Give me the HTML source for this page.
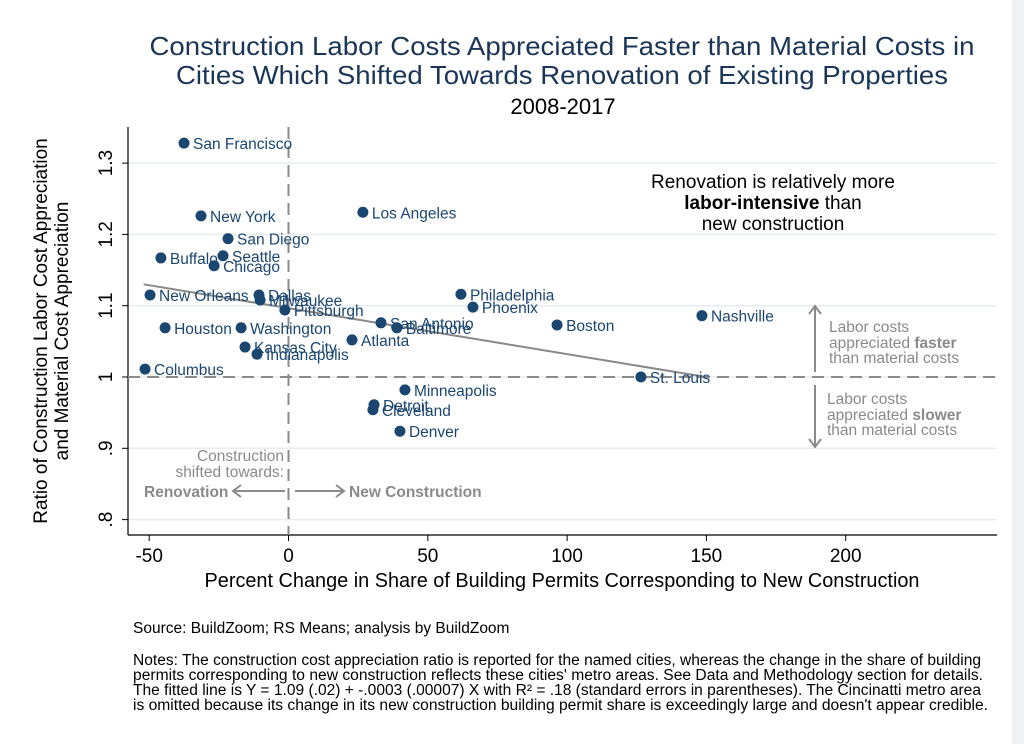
<!DOCTYPE html>
<html><head><meta charset="utf-8"><style>
body{margin:0;background:#fff;}
svg{display:block;font-family:"Liberation Sans",Arial,sans-serif;}
</style></head><body>
<svg id="chart" width="1024" height="744" viewBox="0 0 1024 744">
<rect x="0" y="0" width="1024" height="744" fill="#eef2f4"/>
<rect x="0" y="0" width="1012" height="744" fill="#fff"/>
<text x="562" y="55" text-anchor="middle" font-size="26" fill="#1a3556" textLength="825" lengthAdjust="spacingAndGlyphs">Construction Labor Costs Appreciated Faster than Material Costs in</text>
<text x="562" y="84" text-anchor="middle" font-size="26" fill="#1a3556" textLength="772" lengthAdjust="spacingAndGlyphs">Cities Which Shifted Towards Renovation of Existing Properties</text>
<text x="563" y="114" text-anchor="middle" font-size="22" fill="#000">2008-2017</text>
<g id="grid"></g>
<g id="axes"></g>
<g id="refs"></g>
<g id="fit"></g>
<g id="points"></g>
<text transform="translate(47,331) rotate(-90)" text-anchor="middle" font-size="19" fill="#000"><tspan x="0" dy="0">Ratio of Construction Labor Cost Appreciation</tspan><tspan x="0" dy="21">and Material Cost Appreciation</tspan></text>
<text x="562" y="587" text-anchor="middle" font-size="20" fill="#000" textLength="715" lengthAdjust="spacingAndGlyphs">Percent Change in Share of Building Permits Corresponding to New Construction</text>
<g font-size="19" fill="#000" text-anchor="middle">
<text x="773" y="188">Renovation is relatively more</text>
<text x="773" y="209"><tspan font-weight="bold">labor-intensive</tspan> than</text>
<text x="773" y="230">new construction</text>
</g>
<g font-size="15.5" fill="#8a8a8a">
<text x="829" y="332">Labor costs</text>
<text x="829" y="348">appreciated <tspan font-weight="bold">faster</tspan></text>
<text x="829" y="363">than material costs</text>
</g>
<g font-size="15.5" fill="#8a8a8a">
<text x="827" y="404">Labor costs</text>
<text x="827" y="420">appreciated <tspan font-weight="bold">slower</tspan></text>
<text x="827" y="435">than material costs</text>
</g>
<g stroke="#8a8a8a" stroke-width="2" fill="none">
<path d="M815 372 V306 M809 314 L815 306 L821 314"/>
<path d="M815 385 V447 M809 439 L815 447 L821 439"/>
<path d="M285 491 H233 M241 485 L233 491 L241 497"/>
<path d="M295 491 H344 M336 485 L344 491 L336 497"/>
</g>
<g font-size="15.5" fill="#8a8a8a" text-anchor="end">
<text x="284" y="461">Construction</text>
<text x="284" y="477">shifted towards:</text>
</g>
<text x="144" y="497" font-size="15.5" font-weight="bold" fill="#8a8a8a">Renovation</text>
<text x="349" y="497" font-size="15.5" font-weight="bold" fill="#8a8a8a">New Construction</text>
<text x="133" y="633" font-size="15.5" fill="#000">Source: BuildZoom; RS Means; analysis by BuildZoom</text>
<g font-size="15.5" fill="#000">
<text x="133" y="665" textLength="848" lengthAdjust="spacingAndGlyphs">Notes: The construction cost appreciation ratio is reported for the named cities, whereas the change in the share of building</text>
<text x="133" y="680" textLength="850" lengthAdjust="spacingAndGlyphs">permits corresponding to new construction reflects these cities' metro areas. See Data and Methodology section for details.</text>
<text x="133" y="695" textLength="848" lengthAdjust="spacingAndGlyphs">The fitted line is Y = 1.09 (.02) + -.0003 (.00007) X with R² = .18 (standard errors in parentheses). The Cincinatti metro area</text>
<text x="133" y="710" textLength="855" lengthAdjust="spacingAndGlyphs">is omitted because its change in its new construction building permit share is exceedingly large and doesn't appear credible.</text>
</g>
</svg>
<script>
const cities = ["San Francisco","New York","San Diego","Seattle","Chicago","Buffalo","New Orleans","Dallas","Milwaukee","Pittsburgh","Houston","Washington","Kansas City","Indianapolis","Columbus","Los Angeles","Philadelphia","Phoenix","San Antonio","Baltimore","Atlanta","Boston","Nashville","St. Louis","Minneapolis","Detroit","Cleveland","Denver"];
const xValues = [-37.5,-31.4,-21.7,-23.5,-26.7,-45.8,-49.7,-10.6,-10.2,-1.3,-44.3,-17.0,-15.6,-11.3,-51.5,26.7,61.9,66.2,33.2,38.9,22.8,96.4,148.4,126.5,41.8,30.7,30.3,40.0];
const yValues = [1.328,1.226,1.194,1.170,1.156,1.167,1.115,1.115,1.108,1.094,1.069,1.069,1.042,1.032,1.011,1.231,1.116,1.098,1.076,1.069,1.052,1.073,1.086,1.000,0.982,0.961,0.954,0.924];
const xTicks = [-50,0,50,100,150,200];
const xTickLabels = ["-50","0","50","100","150","200"];
const yTicks = [0.8,0.9,1.0,1.1,1.2,1.3];
const yTickLabels = [".8",".9","1","1.1","1.2","1.3"];
const fitRange = [-52,150];
const fitCoef = [1.0965,-0.000644];

const NS="http://www.w3.org/2000/svg";
const X0=128, X1=997, Y0=127, Y1=535;
function sx(v){return 288.5+(v-0)*2.786;}
function sy(v){return 377-(v-1)*713;}
function mk(parent,tag,attrs){const e=document.createElementNS(NS,tag);for(const k in attrs)e.setAttribute(k,attrs[k]);document.getElementById(parent).appendChild(e);return e;}

yTicks.forEach((t,i)=>{
  const g=mk('grid','line',{x1:X0,x2:X1,y1:sy(t),y2:sy(t),stroke:'#e6ecef','stroke-width':1.5});
  
  
  const tk=mk('axes','line',{x1:X0-6,x2:X0,y1:sy(t),y2:sy(t),stroke:'#000','stroke-width':1});
  
  
  const lb=mk('axes','text',{transform:`translate(${X0-16},${sy(t)}) rotate(-90)`,'text-anchor':'middle','font-size':19,fill:'#000'});
  lb.textContent=yTickLabels[i];
  
  
});
xTicks.forEach((t,i)=>{
  const tk=mk('axes','line',{x1:sx(t),x2:sx(t),y1:Y1,y2:Y1+6,stroke:'#000','stroke-width':1});
  
  
  const lb=mk('axes','text',{x:sx(t),y:Y1+27,'text-anchor':'middle','font-size':19,fill:'#000'});
  lb.textContent=xTickLabels[i];
  
  
});
const ya=mk('axes','line',{x1:X0,x2:X0,y1:Y0,y2:Y1,stroke:'#000','stroke-width':1.2});


const xa=mk('axes','line',{x1:X0,x2:X1,y1:Y1,y2:Y1,stroke:'#000','stroke-width':1.2});



const hr=mk('refs','line',{x1:X0,x2:X1,y1:sy(1),y2:sy(1),stroke:'#8a8a8a','stroke-width':2,'stroke-dasharray':'12,7'});


const vr=mk('refs','line',{x1:sx(0),x2:sx(0),y1:Y0,y2:Y1,stroke:'#8a8a8a','stroke-width':2,'stroke-dasharray':'12,7'});



const fl=mk('fit','line',{x1:sx(fitRange[0]),y1:sy(fitCoef[0]+fitCoef[1]*fitRange[0]),x2:sx(fitRange[1]),y2:sy(fitCoef[0]+fitCoef[1]*fitRange[1]),stroke:'#888','stroke-width':2});



cities.forEach((c,i)=>{
  const px=sx(xValues[i]), py=sy(yValues[i]);
  const d=mk('points','circle',{cx:px,cy:py,r:5.5,fill:'#1a4670'});
  
  
  const t=mk('points','text',{x:px+9,y:py+6,'font-size':15.5,fill:'#1a4670'});
  t.textContent=c;
  
  
});
</script>
</body></html>
